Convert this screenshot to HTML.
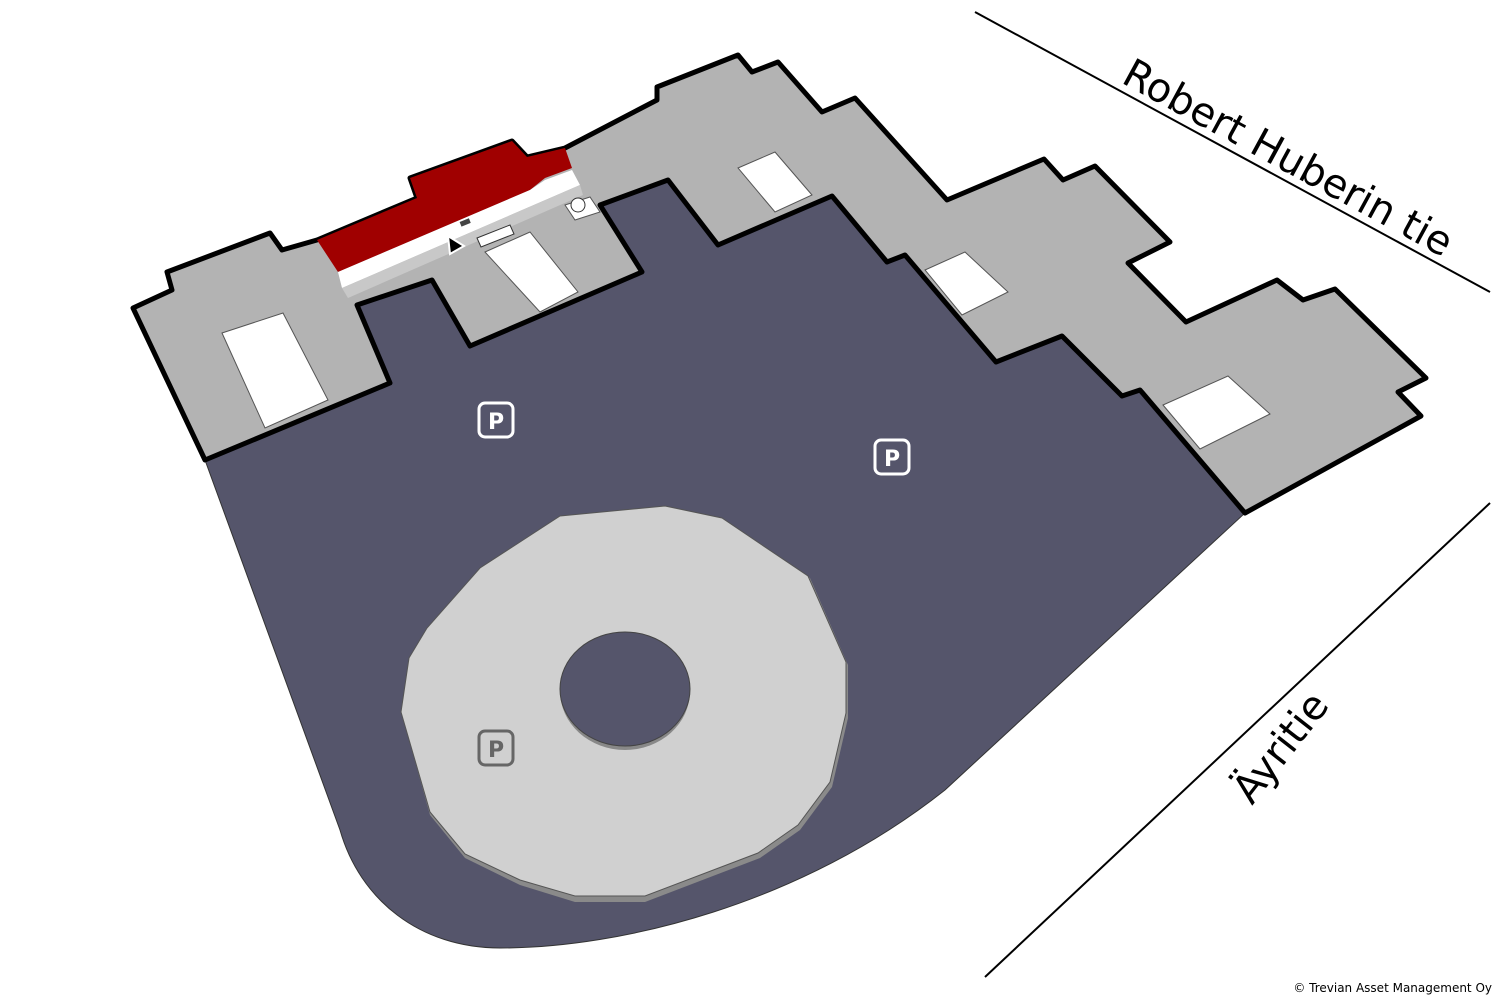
<!DOCTYPE html>
<html><head><meta charset="utf-8"><style>
html,body{margin:0;padding:0;background:#fff;width:1500px;height:1000px;overflow:hidden}
svg{display:block}
text{font-family:"DejaVu Sans","Liberation Sans",sans-serif}
</style></head><body>
<svg width="1500" height="1000" viewBox="0 0 1500 1000" xmlns="http://www.w3.org/2000/svg">
<!-- roads -->
<line x1="975" y1="12" x2="1490" y2="292" stroke="#000" stroke-width="2"/>
<line x1="985" y1="977" x2="1490" y2="503" stroke="#000" stroke-width="2"/>
<text x="0" y="0" font-size="40" transform="translate(1120,82) rotate(28.5)" fill="#000">Robert Huberin tie</text>
<text x="0" y="0" font-size="40" transform="translate(1252,806) rotate(-52)" fill="#000">Äyritie</text>

<!-- parking area -->
<path d="M205,460 L390,383 L357,305 L432,280 L470,346 L642,272 L600,205 L668,180 L718,245 L832,196 L887,262 L905,255 L996,362 L1062,336 L1122,396 L1140,390 L1245,513 L945,790 C800,905 620,948 500,948 C420,948 360,900 340,830 Z" fill="#55556b" stroke="#333" stroke-width="1"/>

<!-- ring -->
<polygon points="560,519 665,508 722,520 810,578 848,665 848,718 832,787 800,830 760,858 645,902 575,902 520,885 465,858 430,815 402,715 410,660 428,630 480,570" fill="#8a8a8a"/>
<polygon points="560,516 665,506 722,518 808,576 846,662 846,713 830,782 798,825 758,853 645,896 575,896 520,880 465,854 430,812 401,712 409,658 427,628 480,568" fill="#d0d0d0" stroke="#555" stroke-width="1"/>
<ellipse cx="625" cy="691" rx="65" ry="59" fill="#888"/>
<ellipse cx="625" cy="689" rx="65" ry="57" fill="#55556b" stroke="#444" stroke-width="1"/>

<!-- buildings -->
<path d="M133,308 L172,290 L167,272 L270,233 L282,250 L317,240 L417,198 L410,178 L512,141 L527,157 L565,148 L657,100 L657,87 L738,55 L752,72 L778,62 L822,112 L855,98 L947,200 L1044,159 L1063,180 L1095,166 L1170,242 L1128,263 L1186,322 L1277,280 L1303,300 L1335,289 L1426,378 L1398,392 L1421,416 L1245,513 L1140,390 L1122,396 L1062,336 L996,362 L905,255 L887,262 L832,196 L718,245 L668,180 L600,205 L642,272 L470,346 L432,280 L357,305 L390,383 L205,460 Z" fill="#b3b3b3" stroke="#000" stroke-width="5" stroke-linejoin="round"/>
<!-- red -->
<polygon points="317,240 417,198 410,178 512,141 527,157 565,148 572,168 545,178 530,190 338,272" fill="#a00000"/>
<polygon points="338,272 530,190 545,180 572,170 580,185 342,288" fill="#fff"/>
<polygon points="342,288 580,185 583,195 348,298" fill="#c8c8c8"/>
<!-- middle wing white room -->
<polygon points="485,252 530,232 578,292 540,312" fill="#fff" stroke="#555" stroke-width="1"/>
<polygon points="565,205 590,197 600,212 575,220" fill="#fff" stroke="#555" stroke-width="1"/>
<circle cx="578" cy="205" r="7" fill="#fff" stroke="#333"/>
<polygon points="477,238 510,225 514,234 481,247" fill="#fff" stroke="#333" stroke-width="1"/>
<polygon points="448,236 464,246 450,254" fill="#000" stroke="#fff" stroke-width="2"/>
<rect x="460" y="220" width="10" height="5" fill="#444" transform="rotate(-22 465 222)"/>
<!-- white rooms -->
<polygon points="222,333 283,313 328,400 265,428" fill="#fff" stroke="#555" stroke-width="1"/>
<polygon points="738,168 775,152 812,195 775,212" fill="#fff" stroke="#555" stroke-width="1"/>
<polygon points="925,270 965,252 1008,292 962,315" fill="#fff" stroke="#555" stroke-width="1"/>
<polygon points="1163,405 1228,376 1270,414 1200,449" fill="#fff" stroke="#555" stroke-width="1"/>

<!-- P signs -->
<g font-weight="bold" font-size="22" text-anchor="middle">
<rect x="479" y="403" width="34" height="34" rx="6" fill="#55556b" stroke="#fff" stroke-width="3"/>
<text x="496" y="429" fill="#fff">P</text>
<rect x="875" y="440" width="34" height="34" rx="6" fill="#55556b" stroke="#fff" stroke-width="3"/>
<text x="892" y="466" fill="#fff">P</text>
<rect x="479" y="731" width="34" height="34" rx="6" fill="#d0d0d0" stroke="#666" stroke-width="3"/>
<text x="496" y="757" fill="#666">P</text>
</g>
<text x="1492" y="992" font-size="12" text-anchor="end" fill="#000">© Trevian Asset Management Oy</text>
</svg>
</body></html>
